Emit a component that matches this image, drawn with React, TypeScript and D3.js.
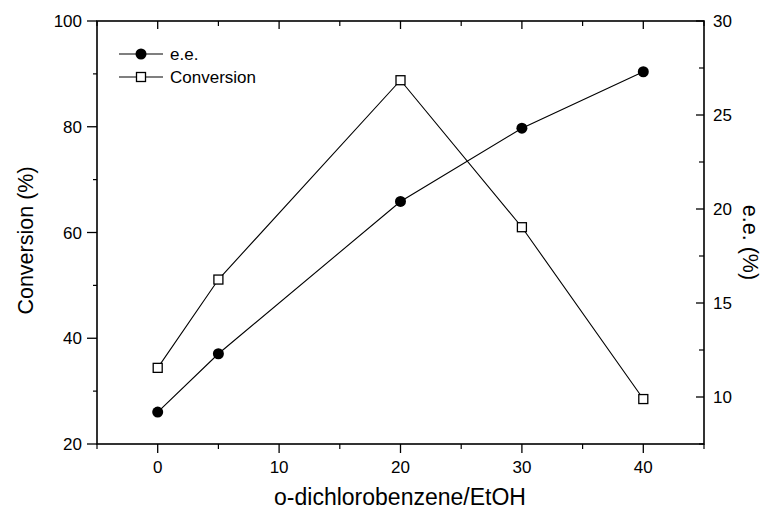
import React from "react";
import * as d3 from "d3";

const width = 764;
const height = 510;
const margin = { top: 21, right: 60, bottom: 66, left: 97 };

// data
const ratios = [0, 5, 20, 30, 40];
const eeValues = [9.2, 12.3, 20.4, 24.3, 27.3];
const conversionValues = [34.4, 51.1, 88.8, 61.0, 28.5];

const xTicks = [0, 10, 20, 30, 40];
const xMinor = [-5, 5, 15, 25, 35, 45];
const leftTicks = [20, 40, 60, 80, 100];
const leftMinor = [30, 50, 70, 90];
const rightTicks = [10, 15, 20, 25, 30];
const rightMinor = [7.5, 12.5, 17.5, 22.5, 27.5];

const font = "'Liberation Sans', Arial, Helvetica, sans-serif";

export default function App() {
  const x = d3
    .scaleLinear()
    .domain([-5, 45])
    .range([margin.left, width - margin.right]);
  const yLeft = d3
    .scaleLinear()
    .domain([20, 100])
    .range([height - margin.bottom, margin.top]);
  const yRight = d3
    .scaleLinear()
    .domain([7.5, 30])
    .range([height - margin.bottom, margin.top]);

  const convLine = d3
    .line<number>()
    .x((d, i) => x(ratios[i]))
    .y(d => yLeft(d));
  const eeLine = d3
    .line<number>()
    .x((d, i) => x(ratios[i]))
    .y(d => yRight(d));

  const x0 = x.range()[0];
  const x1 = x.range()[1];
  const yB = yLeft.range()[0];
  const yT = yLeft.range()[1];

  return (
    <svg
      width={width}
      height={height}
      style={{ position: "fixed", left: 0, top: 0, background: "#fff" }}
      fontFamily={font}
    >
      <rect width={width} height={height} fill="#fff" />

      {/* data lines */}
      <path d={convLine(conversionValues) || ""} fill="none" stroke="#000" strokeWidth={1.1} />
      <path d={eeLine(eeValues) || ""} fill="none" stroke="#000" strokeWidth={1.1} />
      {conversionValues.map((v, i) => (
        <rect
          key={"c" + i}
          x={x(ratios[i]) - 4.5}
          y={yLeft(v) - 4.5}
          width={9}
          height={9}
          fill="#fff"
          stroke="#000"
          strokeWidth={1.3}
        />
      ))}
      {eeValues.map((v, i) => (
        <circle key={"e" + i} cx={x(ratios[i])} cy={yRight(v)} r={5.5} fill="#000" />
      ))}

      {/* frame */}
      <rect x={x0} y={yT} width={x1 - x0} height={yB - yT} fill="none" stroke="#000" strokeWidth={1.6} />

      {/* bottom axis */}
      {xTicks.map(t => (
        <g key={"xb" + t}>
          <line x1={x(t)} x2={x(t)} y1={yB} y2={yB + 9} stroke="#000" strokeWidth={1.3} />
          <line x1={x(t)} x2={x(t)} y1={yT} y2={yT + 8} stroke="#000" strokeWidth={1.3} />
          <text x={x(t)} y={yB + 29} textAnchor="middle" fontSize={17}>
            {t}
          </text>
        </g>
      ))}
      {xMinor.map(t => (
        <g key={"xm" + t}>
          <line x1={x(t)} x2={x(t)} y1={yB} y2={yB + 5} stroke="#000" strokeWidth={1.2} />
          <line x1={x(t)} x2={x(t)} y1={yT} y2={yT + 5} stroke="#000" strokeWidth={1.2} />
        </g>
      ))}

      {/* left axis */}
      {leftTicks.map(t => (
        <g key={"yl" + t}>
          <line x1={x0 - 10} x2={x0} y1={yLeft(t)} y2={yLeft(t)} stroke="#000" strokeWidth={1.3} />
          <text x={x0 - 15} y={yLeft(t)} dy="0.36em" textAnchor="end" fontSize={17}>
            {t}
          </text>
        </g>
      ))}
      {leftMinor.map(t => (
        <line key={"ylm" + t} x1={x0 - 4} x2={x0} y1={yLeft(t)} y2={yLeft(t)} stroke="#000" strokeWidth={1.2} />
      ))}

      {/* right axis */}
      {rightTicks.map(t => (
        <g key={"yr" + t}>
          <line x1={x1 - 8} x2={x1} y1={yRight(t)} y2={yRight(t)} stroke="#000" strokeWidth={1.3} />
          <text x={x1 + 9} y={yRight(t)} dy="0.36em" textAnchor="start" fontSize={17}>
            {t}
          </text>
        </g>
      ))}
      {rightMinor.map(t => (
        <line key={"yrm" + t} x1={x1 - 5} x2={x1} y1={yRight(t)} y2={yRight(t)} stroke="#000" strokeWidth={1.2} />
      ))}

      {/* axis titles */}
      <text x={400} y={505} textAnchor="middle" fontSize={23}>
        o-dichlorobenzene/EtOH
      </text>
      <text
        transform={`translate(33, ${(yT + yB) / 2 + 8}) rotate(-90)`}
        textAnchor="middle"
        fontSize={21.5}
      >
        Conversion (%)
      </text>
      <text
        transform={`translate(743, ${(yT + yB) / 2 + 10}) rotate(90)`}
        textAnchor="middle"
        fontSize={21.5}
      >
        e.e. (%)
      </text>

      {/* legend */}
      <g>
        <line x1={119} x2={163} y1={54} y2={54} stroke="#000" strokeWidth={1.1} />
        <circle cx={141} cy={54} r={5.5} fill="#000" />
        <text x={170} y={54} dy="0.36em" fontSize={17}>
          e.e.
        </text>
        <line x1={119} x2={163} y1={77} y2={77} stroke="#000" strokeWidth={1.1} />
        <rect x={136.5} y={72.5} width={9} height={9} fill="#fff" stroke="#000" strokeWidth={1.3} />
        <text x={170} y={77} dy="0.36em" fontSize={17}>
          Conversion
        </text>
      </g>
    </svg>
  );
}
